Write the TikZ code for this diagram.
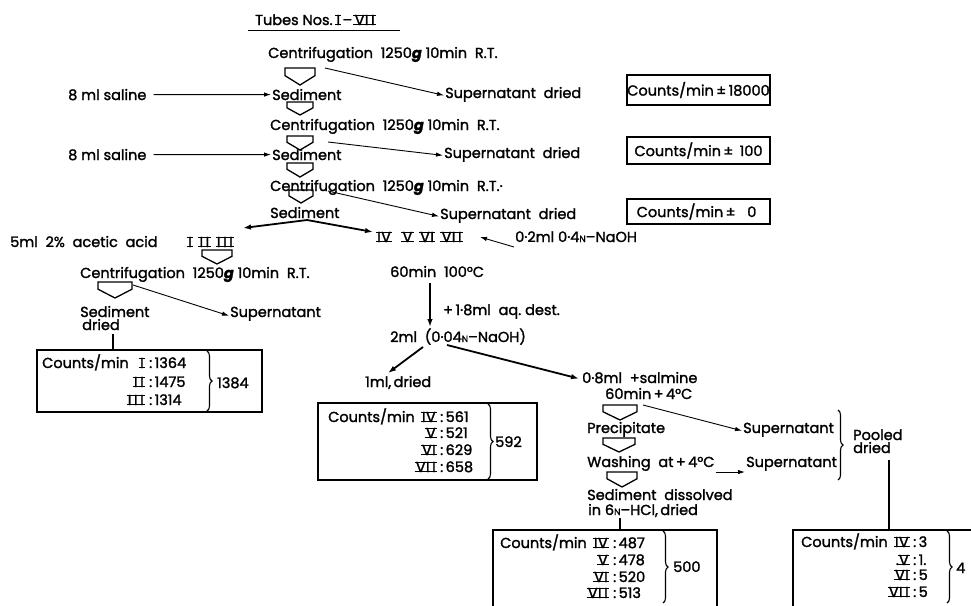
\documentclass[tikz,border=0pt]{standalone}
\usepackage{fontspec}
\setmainfont[FakeBold=1.6]{Poppins}
\usetikzlibrary{arrows.meta,decorations.pathreplacing,calc}
\newcommand\rn[1]{\leavevmode\setbox0\hbox{#1}\hbox{\rlap{\kern-1.3pt\rule[-0.3pt]{\dimexpr\wd0+2.6pt}{1.5pt}}\rlap{\kern-1.3pt\rule[\dimexpr\ht0-1.3pt]{\dimexpr\wd0+2.6pt}{1.5pt}}\box0}}
\newcommand\RI{\rn{I}}
\newcommand\RII{\rn{I\kern2.6pt I}}
\newcommand\RIII{\rn{I\kern2.6pt I\kern2.6pt I}}
\newcommand\RIV{\rn{I\kern0.4pt V}}
\newcommand\RV{\rn{V}}
\newcommand\RVI{\rn{V\kern0.4pt I}}
\newcommand\RVII{\rn{V\kern0.4pt I\kern2.6pt I}}
\newcommand\sN{{\fontsize{9}{9}\selectfont N}}
\newcommand\bg{\textbf{\textit{g}}}
\newcommand\harr[4]{\draw[hol] ({#1-#4},#2) -- ({#1+#4},#2) -- ({#1+#4},{#2+0.45*(#3-#2)}) -- (#1,#3) -- ({#1-#4},{#2+0.45*(#3-#2)}) -- cycle;}
\begin{document}
\begin{tikzpicture}[x=1pt,y=-1pt,
  T/.style={anchor=base west,inner sep=0pt,font=\fontsize{14.5}{14.5}\selectfont},
  TE/.style={anchor=base east,inner sep=0pt,font=\fontsize{14.5}{14.5}\selectfont},
  cbox/.style={draw,line width=1.3pt,inner sep=0pt,minimum width=143pt,font=\fontsize{14.5}{14.5}\selectfont},
  thin/.style={line width=0.9pt,-{Latex[length=7pt,width=4.5pt]}},
  thk/.style={line width=1.8pt,-{Latex[length=8pt,width=5.5pt]}},
  bl/.style={line width=1.3pt},
  hol/.style={line width=1.3pt,line join=miter},
  brc/.style={line width=1.1pt,decorate,decoration={brace,amplitude=5pt}}]
\useasboundingbox (0,0) rectangle (971,605);
\clip (0,0) rectangle (971,605);
% header
\node[T] (hdr) at (255,25) {Tubes\ Nos.\ \RI\,–\,\RVII};
\draw[line width=1pt] (248,30) -- (400,30);
% row 1
\node[T] (c1) at (268,58) {Centrifugation\ \ 1250\bg\ 10min\ \ R.T.};
\harr{300}{68}{85}{15}
\node[T] (sal1) at (68,100) {8 ml saline};
\node[T] (s1) at (272,100) {Sediment};
\node[T] (sup1) at (445,98) {Supernatant\ \ dried};
\coordinate (c1o) at (325,68);
\draw[thin] ([xshift=7pt]sal1.east) -- ([xshift=-1pt]s1.west);
\draw[thin] (c1o) -- ([xshift=-1pt,yshift=-1pt]sup1.west);
\node[cbox,minimum height=30pt] (b1) at (698.5,90) {Counts/min\,±\,18000};
% row 2
\harr{300}{102}{115}{13}
\node[T] (c2) at (270,130) {Centrifugation\ \ 1250\bg\ 10min\ \ R.T.};
\harr{300}{136}{150}{13}
\node[T] (sal2) at (68,160) {8 ml saline};
\node[T] (s2) at (272,160) {Sediment};
\node[T] (sup2) at (444,158) {Supernatant\ \ dried};
\coordinate (c2o) at (328,142);
\draw[thin] ([xshift=7pt]sal2.east) -- ([xshift=-1pt]s2.west);
\draw[thin] (c2o) -- ([xshift=-1pt,yshift=-1pt]sup2.west);
\node[cbox,minimum height=27pt] (b2) at (698.5,150.5) {Counts/min\,±\,\ 100};
% row 3
\harr{300}{163}{177}{13}
\node[T] (c3) at (270,191) {Centrifugation\ \ 1250\bg\ 10min\ \ R.T.·};
\harr{301}{190}{203}{12}
\node[T] (s3) at (270,218) {Sediment};
\node[T] (sup3) at (440,219) {Supernatant\ \ dried};
\coordinate (c3o) at (328,191);
\draw[thin] (c3o) -- ([xshift=-1pt,yshift=-1pt]sup3.west);
\node[cbox,minimum height=25pt] (b3) at (698.5,211.5) {Counts/min\,±\ \ \ 0\ \ };
% branches
\coordinate (s3b) at (307,220);
\node[T] (acid) at (10,247) {5ml\ \ 2\%\ \ acetic\ \ acid};
\node[T] (g1) at (188,247) {\RI\ \ \RII\ \ \RIII};
\node[T] (g2) at (377,242) {\RIV\ \ \ \RV\ \ \RVI\ \ \RVII};
\node[T] (naoh) at (515,242) {0·2ml\ 0·4\sN–NaOH};
\draw[thk] (s3b) -- (243,228);
\draw[thk] (s3b) -- (373,232);
\draw[thin] ([xshift=-1pt,yshift=-5pt]naoh.base west) -- (480,237);
% left branch
\harr{217}{250}{264}{15}
\node[T] (c4) at (80,278) {Centrifugation\ \ 1250\bg\ 10min\ \ R.T.};
\harr{115}{282}{298}{17}
\coordinate (c4o) at (133,285);
\node[T] (sup4) at (230,317) {Supernatant};
\draw[thin] (c4o) -- ([xshift=-1pt,yshift=-2pt]sup4.west);
\node[T] (sd1) at (80,317) {Sediment};
\node[T] (sd2) at (82,330) {dried};
\coordinate (bx1t) at (113,350);
\draw[bl] (113,334) -- (bx1t);
\draw[bl] (37,350) rectangle (262,412);
\node[T] (k1) at (42,368) {Counts/min};
\coordinate (n1) at ($(k1.base east)+(15,0)$);
\node[TE] at (n1) {\RI}; \node[T] at ($(n1)+(5,0)$) {:\,1364};
\node[TE] at ($(n1)+(0,19)$) {\RII}; \node[T] at ($(n1)+(5,19)$) {:\,1475};
\node[TE] at ($(n1)+(0,37)$) {\RIII}; \node[T] at ($(n1)+(5,37)$) {:\,1314};
\draw[brc] (207,351) -- (207,411);
\node[T] (m1) at (217,388) {1384};
% middle branch
\node[T] (h60) at (390,277) {60min\ \ 100°C};
\node[T] (aq) at (443,315) {+\,1·8ml\ \ aq.\ dest.};
\node[T] (ml2) at (390,342) {2ml\ \ (0·04\sN–NaOH)};
\draw[thk] (430,283) -- (430,327);
\node[T] (ml1) at (365,387) {1ml,\,dried};
\node[T] (sal) at (582,383) {0·8ml\ \ +salmine};
\node[T] (h4) at (605,399) {60min\,+\,4°C};
\draw[thk] (423,347) -- (388,373);
\draw[thk] (447,345) -- ([xshift=-3pt,yshift=-1pt]sal.west);
\draw[bl] (318,403) rectangle (537,480);
\node[T] (k2) at (328,422) {Counts/min};
\coordinate (n2) at ($(k2.base east)+(21,0)$);
\node[TE] at (n2) {\RIV}; \node[T] at ($(n2)+(4,0)$) {:\,561};
\node[TE] at ($(n2)+(0,16)$) {\RV}; \node[T] at ($(n2)+(4,16)$) {:\,521};
\node[TE] at ($(n2)+(0,33)$) {\RVI}; \node[T] at ($(n2)+(4,33)$) {:\,629};
\node[TE] at ($(n2)+(0,50)$) {\RVII}; \node[T] at ($(n2)+(4,50)$) {:\,658};
\draw[brc] (488,404) -- (488,479);
\node[T] (m2) at (495,447) {592};
% right branch
\harr{620}{405}{420}{17}
\coordinate (h4o) at (643,405);
\node[T] (spa) at (743,433) {Supernatant};
\draw[thin] (h4o) -- ([xshift=-1pt,yshift=-1pt]spa.west);
\node[T] (prc) at (587,433) {Precipitate};
\harr{619}{438}{452}{16}
\node[T] (wsh) at (587,467) {Washing\ \ at\,+\,4°C};
\node[T] (spb) at (746,467) {Supernatant};
\draw[thin] ([xshift=1pt,yshift=-5pt]wsh.base east) -- ([xshift=-1pt,yshift=-5pt]spb.base west);
\draw[brc] (838,410) -- (838,480);
\node[T] (pl1) at (853,440) {Pooled};
\node[T] (pl2) at (853,453) {dried};
\coordinate (bx4t) at (889,530);
\draw[bl] (889,460) -- (bx4t);
\harr{622}{472}{487}{15}
\node[T] (sdd) at (587,500) {Sediment\ \ dissolved};
\node[T] (hcl) at (588,515) {in\ 6\sN–HCl,\,dried};
\coordinate (bx3t) at (620,530);
\draw[bl] (620,518) -- (bx3t);
% box 500
\draw[bl] (493,615) -- (493,530) -- (717,530) -- (717,615);
\node[T] (k3) at (500,548) {Counts/min};
\coordinate (n3) at ($(k3.base east)+(21,0)$);
\node[TE] at (n3) {\RIV}; \node[T] at ($(n3)+(5,0)$) {:\,487};
\node[TE] at ($(n3)+(0,17)$) {\RV}; \node[T] at ($(n3)+(5,17)$) {:\,478};
\node[TE] at ($(n3)+(0,34)$) {\RVI}; \node[T] at ($(n3)+(5,34)$) {:\,520};
\node[TE] at ($(n3)+(0,50)$) {\RVII}; \node[T] at ($(n3)+(5,50)$) {:\,513};
\draw[brc] (663,531) -- (663,603);
\node[T] (m3) at (673,572) {500};
% box 4
\draw[bl] (793,615) -- (793,530) -- (990,530);
\node[T] (k4) at (801,547) {Counts/min};
\coordinate (n4) at ($(k4.base east)+(21,0)$);
\node[TE] at (n4) {\RIV}; \node[T] at ($(n4)+(4,0)$) {:\,3};
\node[TE] at ($(n4)+(0,18)$) {.\RV}; \node[T] at ($(n4)+(4,18)$) {:\,1.};
\node[TE] at ($(n4)+(0,33)$) {\RVI}; \node[T] at ($(n4)+(4,33)$) {:\,5};
\node[TE] at ($(n4)+(0,50)$) {\RVII}; \node[T] at ($(n4)+(4,50)$) {:\,5};
\draw[brc] (947,531) -- (947,603);
\node[T] (m4) at (956,573) {4};
\end{tikzpicture}
\end{document}
